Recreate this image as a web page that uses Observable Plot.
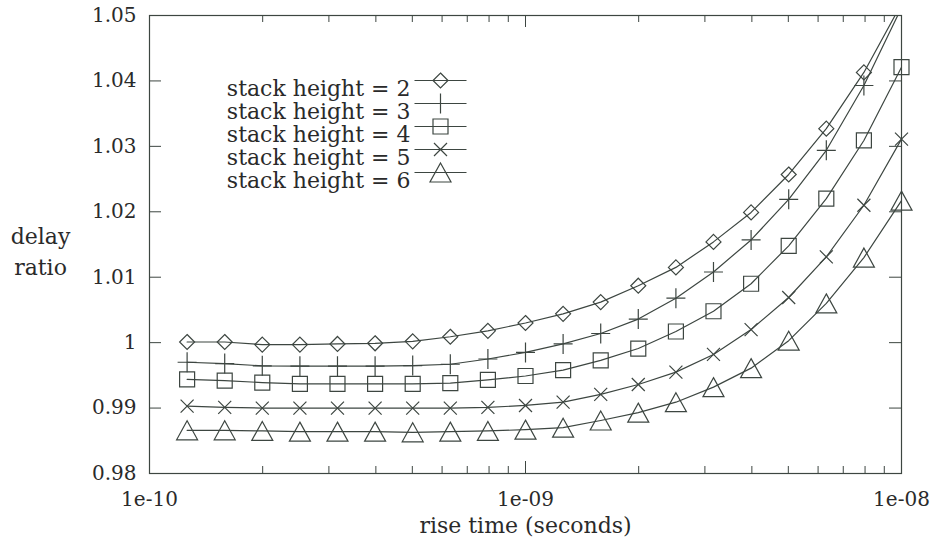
<!DOCTYPE html>
<html>
<head>
<meta charset="utf-8">
<script src="https://cdn.jsdelivr.net/npm/d3@7"></script>
<script src="https://cdn.jsdelivr.net/npm/@observablehq/plot@0.6"></script>
<style>
  html, body { margin: 0; padding: 0; background: #ffffff; }
  #chart svg { display: block; }
</style>
</head>
<body>
<div id="chart"></div>
<script>
// ---- data ----
const riseTime = [1.259e-10, 1.585e-10, 1.995e-10, 2.512e-10, 3.162e-10, 3.981e-10, 5.012e-10, 6.310e-10, 7.943e-10, 1.0e-9,
                  1.259e-9, 1.585e-9, 1.995e-9, 2.512e-9, 3.162e-9, 3.981e-9, 5.012e-9, 6.310e-9, 7.943e-9, 1.0e-8];
const stack2 = [1.0001, 1.0001, 0.9997, 0.9997, 0.9998, 0.9999, 1.0002, 1.0009, 1.0018, 1.0030,
                1.0044, 1.0062, 1.0087, 1.0115, 1.0154, 1.0199, 1.0257, 1.0327, 1.0413, 1.0518];
const stack3 = [0.9970, 0.9968, 0.99645, 0.9964, 0.9964, 0.9964, 0.9965, 0.9967, 0.9975, 0.9985,
                0.9998, 1.0014, 1.0036, 1.0068, 1.0108, 1.0157, 1.0219, 1.0294, 1.0393, 1.0512];
const stack4 = [0.9944, 0.9942, 0.9939, 0.9937, 0.9937, 0.9937, 0.9937, 0.9938, 0.9943, 0.9949,
                0.9958, 0.9973, 0.9991, 1.0017, 1.0048, 1.0090, 1.0148, 1.0220, 1.0309, 1.0421];
const stack5 = [0.9903, 0.9901, 0.9900, 0.9900, 0.9900, 0.9900, 0.9900, 0.9900, 0.9901, 0.9904,
                0.9909, 0.9921, 0.9936, 0.9955, 0.9982, 1.0020, 1.0069, 1.0131, 1.0210, 1.0311];
const stack6 = [0.9866, 0.9866, 0.9865, 0.9864, 0.9864, 0.9864, 0.9863, 0.9864, 0.9865, 0.9867,
                0.9870, 0.9881, 0.9893, 0.9909, 0.9932, 0.9961, 1.0003, 1.0060, 1.0130, 1.0217];
const seriesLabels = ["stack height = 2", "stack height = 3", "stack height = 4", "stack height = 5", "stack height = 6"];
const xMajorTicks = [1e-10, 1e-9, 1e-8];
const xTickLabels = ["1e-10", "1e-09", "1e-08"];
const xMinorTicks = [2e-10, 3e-10, 4e-10, 5e-10, 6e-10, 7e-10, 8e-10, 9e-10, 2e-9, 3e-9, 4e-9, 5e-9, 6e-9, 7e-9, 8e-9, 9e-9];
const yTicks = [0.98, 0.99, 1.00, 1.01, 1.02, 1.03, 1.04, 1.05];
const yTickLabels = ["0.98", "0.99", "1", "1.01", "1.02", "1.03", "1.04", "1.05"];
const xLabel = "rise time (seconds)";
const yLabel = "delay\nratio";

// ---- marker shapes (gnuplot-like, fixed pixel size) ----
const symDiamond = {draw(c) { c.moveTo(0, -7.5); c.lineTo(7.5, 0); c.lineTo(0, 7.5); c.lineTo(-7.5, 0); c.closePath(); }};
const symPlus = {draw(c) { c.moveTo(-9.5, 0); c.lineTo(9.5, 0); c.moveTo(0, -10); c.lineTo(0, 10); }};
const symSquare = {draw(c) { c.moveTo(-7.5, -7.5); c.lineTo(7.5, -7.5); c.lineTo(7.5, 7.5); c.lineTo(-7.5, 7.5); c.closePath(); }};
const symCross = {draw(c) { c.moveTo(-6.5, -6.5); c.lineTo(6.5, 6.5); c.moveTo(-6.5, 6.5); c.lineTo(6.5, -6.5); }};
const symTriangle = {draw(c) { c.moveTo(0, -9.5); c.lineTo(10.5, 9.5); c.lineTo(-10.5, 9.5); c.closePath(); }};
const withLine = (s) => ({draw(c, size) { c.moveTo(-26, 0); c.lineTo(26, 0); s.draw(c, size); }});

const seriesValues = [stack2, stack3, stack4, stack5, stack6];
const symbols = [symDiamond, symPlus, symSquare, symCross, symTriangle];

const ink = "#3d4641";
const textInk = "#2a2a2a";
const yDomain = [0.98, 1.05];

const marks = [];
seriesValues.forEach((vals, i) => {
  const rows = riseTime.map((t, k) => ({t, v: vals[k]}));
  marks.push(Plot.line(rows, {x: "t", y: "v", stroke: ink, strokeWidth: 1.2, clip: true}));
  marks.push(Plot.dot(rows.filter(d => d.v <= yDomain[1]), {x: "t", y: "v", symbol: symbols[i], stroke: ink, strokeWidth: 1.2, fill: "none"}));
  // legend
  marks.push(Plot.text([seriesLabels[i]], {text: d => d, frameAnchor: "top-left", dx: 261, dy: 65 + 23 * i, textAnchor: "end", fill: textInk, fontSize: 22}));
  marks.push(Plot.dot([seriesLabels[i]], {frameAnchor: "top-left", dx: 291, dy: 65 + 23 * i, symbol: withLine(symbols[i]), stroke: ink, strokeWidth: 1.2, fill: "none"}));
});

const chart = Plot.plot({
  width: 937,
  height: 549,
  marginLeft: 149,
  marginRight: 36,
  marginTop: 15,
  marginBottom: 76,
  style: {fontFamily: "'DejaVu Serif', serif", background: "#ffffff", color: textInk},
  x: {type: "log", domain: [1e-10, 1e-8], axis: null},
  y: {domain: yDomain, axis: null},
  marks: [
    // inward ticks (bottom/top, left/right)
    Plot.tickX(xMinorTicks, {x: d => d, insetTop: 451, stroke: ink}),
    Plot.tickX(xMinorTicks, {x: d => d, insetBottom: 451, stroke: ink}),
    Plot.tickX(xMajorTicks, {x: d => d, insetTop: 446, stroke: ink}),
    Plot.tickX(xMajorTicks, {x: d => d, insetBottom: 446, stroke: ink}),
    Plot.tickY(yTicks, {y: d => d, insetRight: 740, stroke: ink}),
    Plot.tickY(yTicks, {y: d => d, insetLeft: 740, stroke: ink}),
    Plot.frame({stroke: ink, strokeWidth: 1.2}),
    // tick labels
    Plot.text(xMajorTicks, {x: d => d, text: (d, i) => xTickLabels[i], frameAnchor: "bottom", dy: 32, fontSize: 20, fill: textInk}),
    Plot.text(yTicks, {y: d => d, text: (d, i) => yTickLabels[i], frameAnchor: "left", dx: -13, textAnchor: "end", fontSize: 20, fill: textInk}),
    // axis titles
    Plot.text([xLabel], {text: d => d, frameAnchor: "bottom", dy: 59, fontSize: 22, fill: textInk}),
    Plot.text([yLabel], {text: d => d, frameAnchor: "left", dx: -109, dy: 5, lineHeight: 1.41, textAnchor: "middle", fontSize: 22, fill: textInk}),
    ...marks
  ]
});
document.getElementById("chart").appendChild(chart);
</script>
</body>
</html>
